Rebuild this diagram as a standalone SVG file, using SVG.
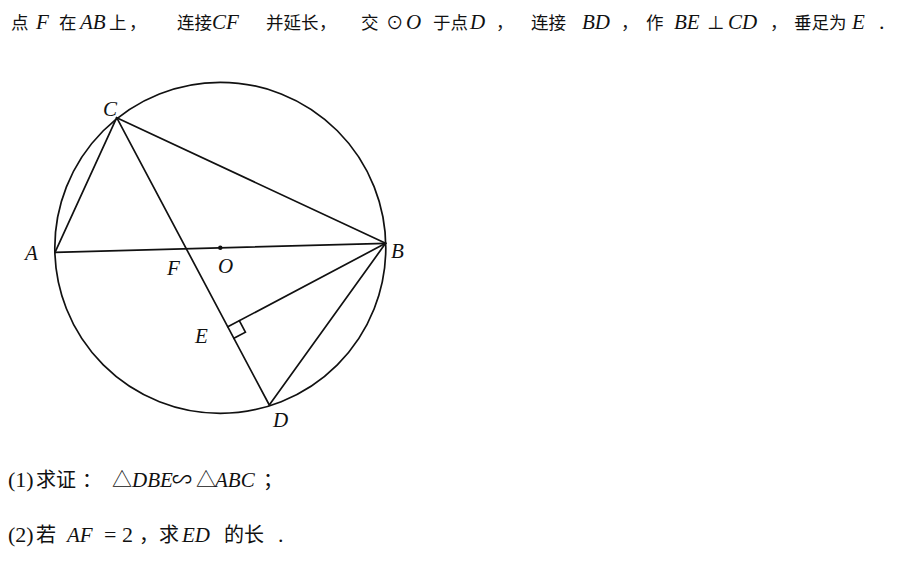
<svg xmlns="http://www.w3.org/2000/svg" width="901" height="563" viewBox="0 0 901 563">
<style>
.cjk { font-family: "Noto Sans CJK SC", sans-serif; font-size: 17.5px; fill: #111; }
.cjk2 { font-family: "Noto Sans CJK SC", sans-serif; font-size: 20px; fill: #111; }
.it { font-family: "Liberation Serif", serif; font-style: italic; font-size: 21px; fill: #111; }
.rm { font-family: "Liberation Serif", serif; font-size: 22px; fill: #111; }
.ln { stroke: #111; stroke-width: 1.7; fill: none; stroke-linecap: round; }
.lbl { font-family: "Liberation Serif", serif; font-style: italic; font-size: 21px; fill: #111; }
</style>
<rect width="901" height="563" fill="#fff"/>

<g id="problem-text">
<text y="29">
<tspan class="cjk" x="11">点</tspan><tspan class="it" x="36">F</tspan><tspan class="cjk" x="59">在</tspan><tspan class="it" x="80">AB</tspan><tspan class="cjk" x="109">上</tspan><tspan class="cjk" x="129">，</tspan><tspan class="cjk" x="177">连接</tspan><tspan class="it" x="212">CF</tspan><tspan class="cjk" x="266">并延长</tspan><tspan class="cjk" x="319">，</tspan><tspan class="cjk" x="361">交</tspan><tspan class="cjk" x="386">⊙</tspan><tspan class="it" x="406">O</tspan><tspan class="cjk" x="433">于点</tspan><tspan class="it" x="470">D</tspan><tspan class="cjk" x="496">，</tspan><tspan class="cjk" x="531">连接</tspan><tspan class="it" x="582">BD</tspan><tspan class="cjk" x="621">，</tspan><tspan class="cjk" x="646">作</tspan><tspan class="it" x="674">BE</tspan><tspan class="cjk" x="707">⊥</tspan><tspan class="it" x="728">CD</tspan><tspan class="cjk" x="770">，</tspan><tspan class="cjk" x="794">垂足为</tspan><tspan class="it" x="852">E</tspan><tspan class="rm" x="879">.</tspan>
</text>
<text y="487">
<tspan class="rm" x="8">(1)</tspan><tspan class="cjk2" x="36">求证</tspan><tspan class="cjk2" x="82">：</tspan><tspan class="cjk2" x="112">△</tspan><tspan class="it" x="132">DBE</tspan><tspan class="cjk2" x="172">∽</tspan><tspan class="cjk2" x="196">△</tspan><tspan class="it" x="215">ABC</tspan><tspan class="cjk2" x="263">；</tspan>
</text>
<text y="542">
<tspan class="rm" x="8">(2)</tspan><tspan class="cjk2" x="36">若</tspan><tspan class="it" x="67">AF</tspan><tspan class="rm" x="104">=</tspan><tspan class="rm" x="122">2</tspan><tspan class="cjk2" x="139">，</tspan><tspan class="cjk2" x="159">求</tspan><tspan class="it" x="182">ED</tspan><tspan class="cjk2" x="224">的长</tspan><tspan class="rm" x="278">.</tspan>
</text>
</g>

<g id="circle-O">
<circle class="ln" cx="220.3" cy="247.8" r="165.5"/>
<circle cx="220.3" cy="247.8" r="2.2" fill="#111"/>
</g>

<g id="connectors">
<line class="ln" x1="55" y1="252.3" x2="385.6" y2="243.3"/>
<line class="ln" x1="55" y1="252.3" x2="116.7" y2="117.7"/>
<line class="ln" x1="116.7" y1="117.7" x2="385.6" y2="243.3"/>
<line class="ln" x1="116.7" y1="117.7" x2="269.3" y2="405"/>
<line class="ln" x1="385.6" y1="243.3" x2="269.3" y2="405"/>
<line class="ln" x1="385.6" y1="243.3" x2="227.8" y2="326.8"/>
<polyline class="ln" points="239.3,320.7 245.4,332.2 233.9,338.3"/>
</g>

<g id="node-A"><text class="lbl" x="25" y="260">A</text></g>
<g id="node-B"><text class="lbl" x="391" y="258">B</text></g>
<g id="node-C"><text class="lbl" x="103" y="116">C</text></g>
<g id="node-D"><text class="lbl" x="273" y="427">D</text></g>
<g id="node-E"><text class="lbl" x="195" y="343">E</text></g>
<g id="node-F"><text class="lbl" x="167" y="275">F</text></g>
<g id="node-O"><text class="lbl" x="218" y="273">O</text></g>
</svg>
